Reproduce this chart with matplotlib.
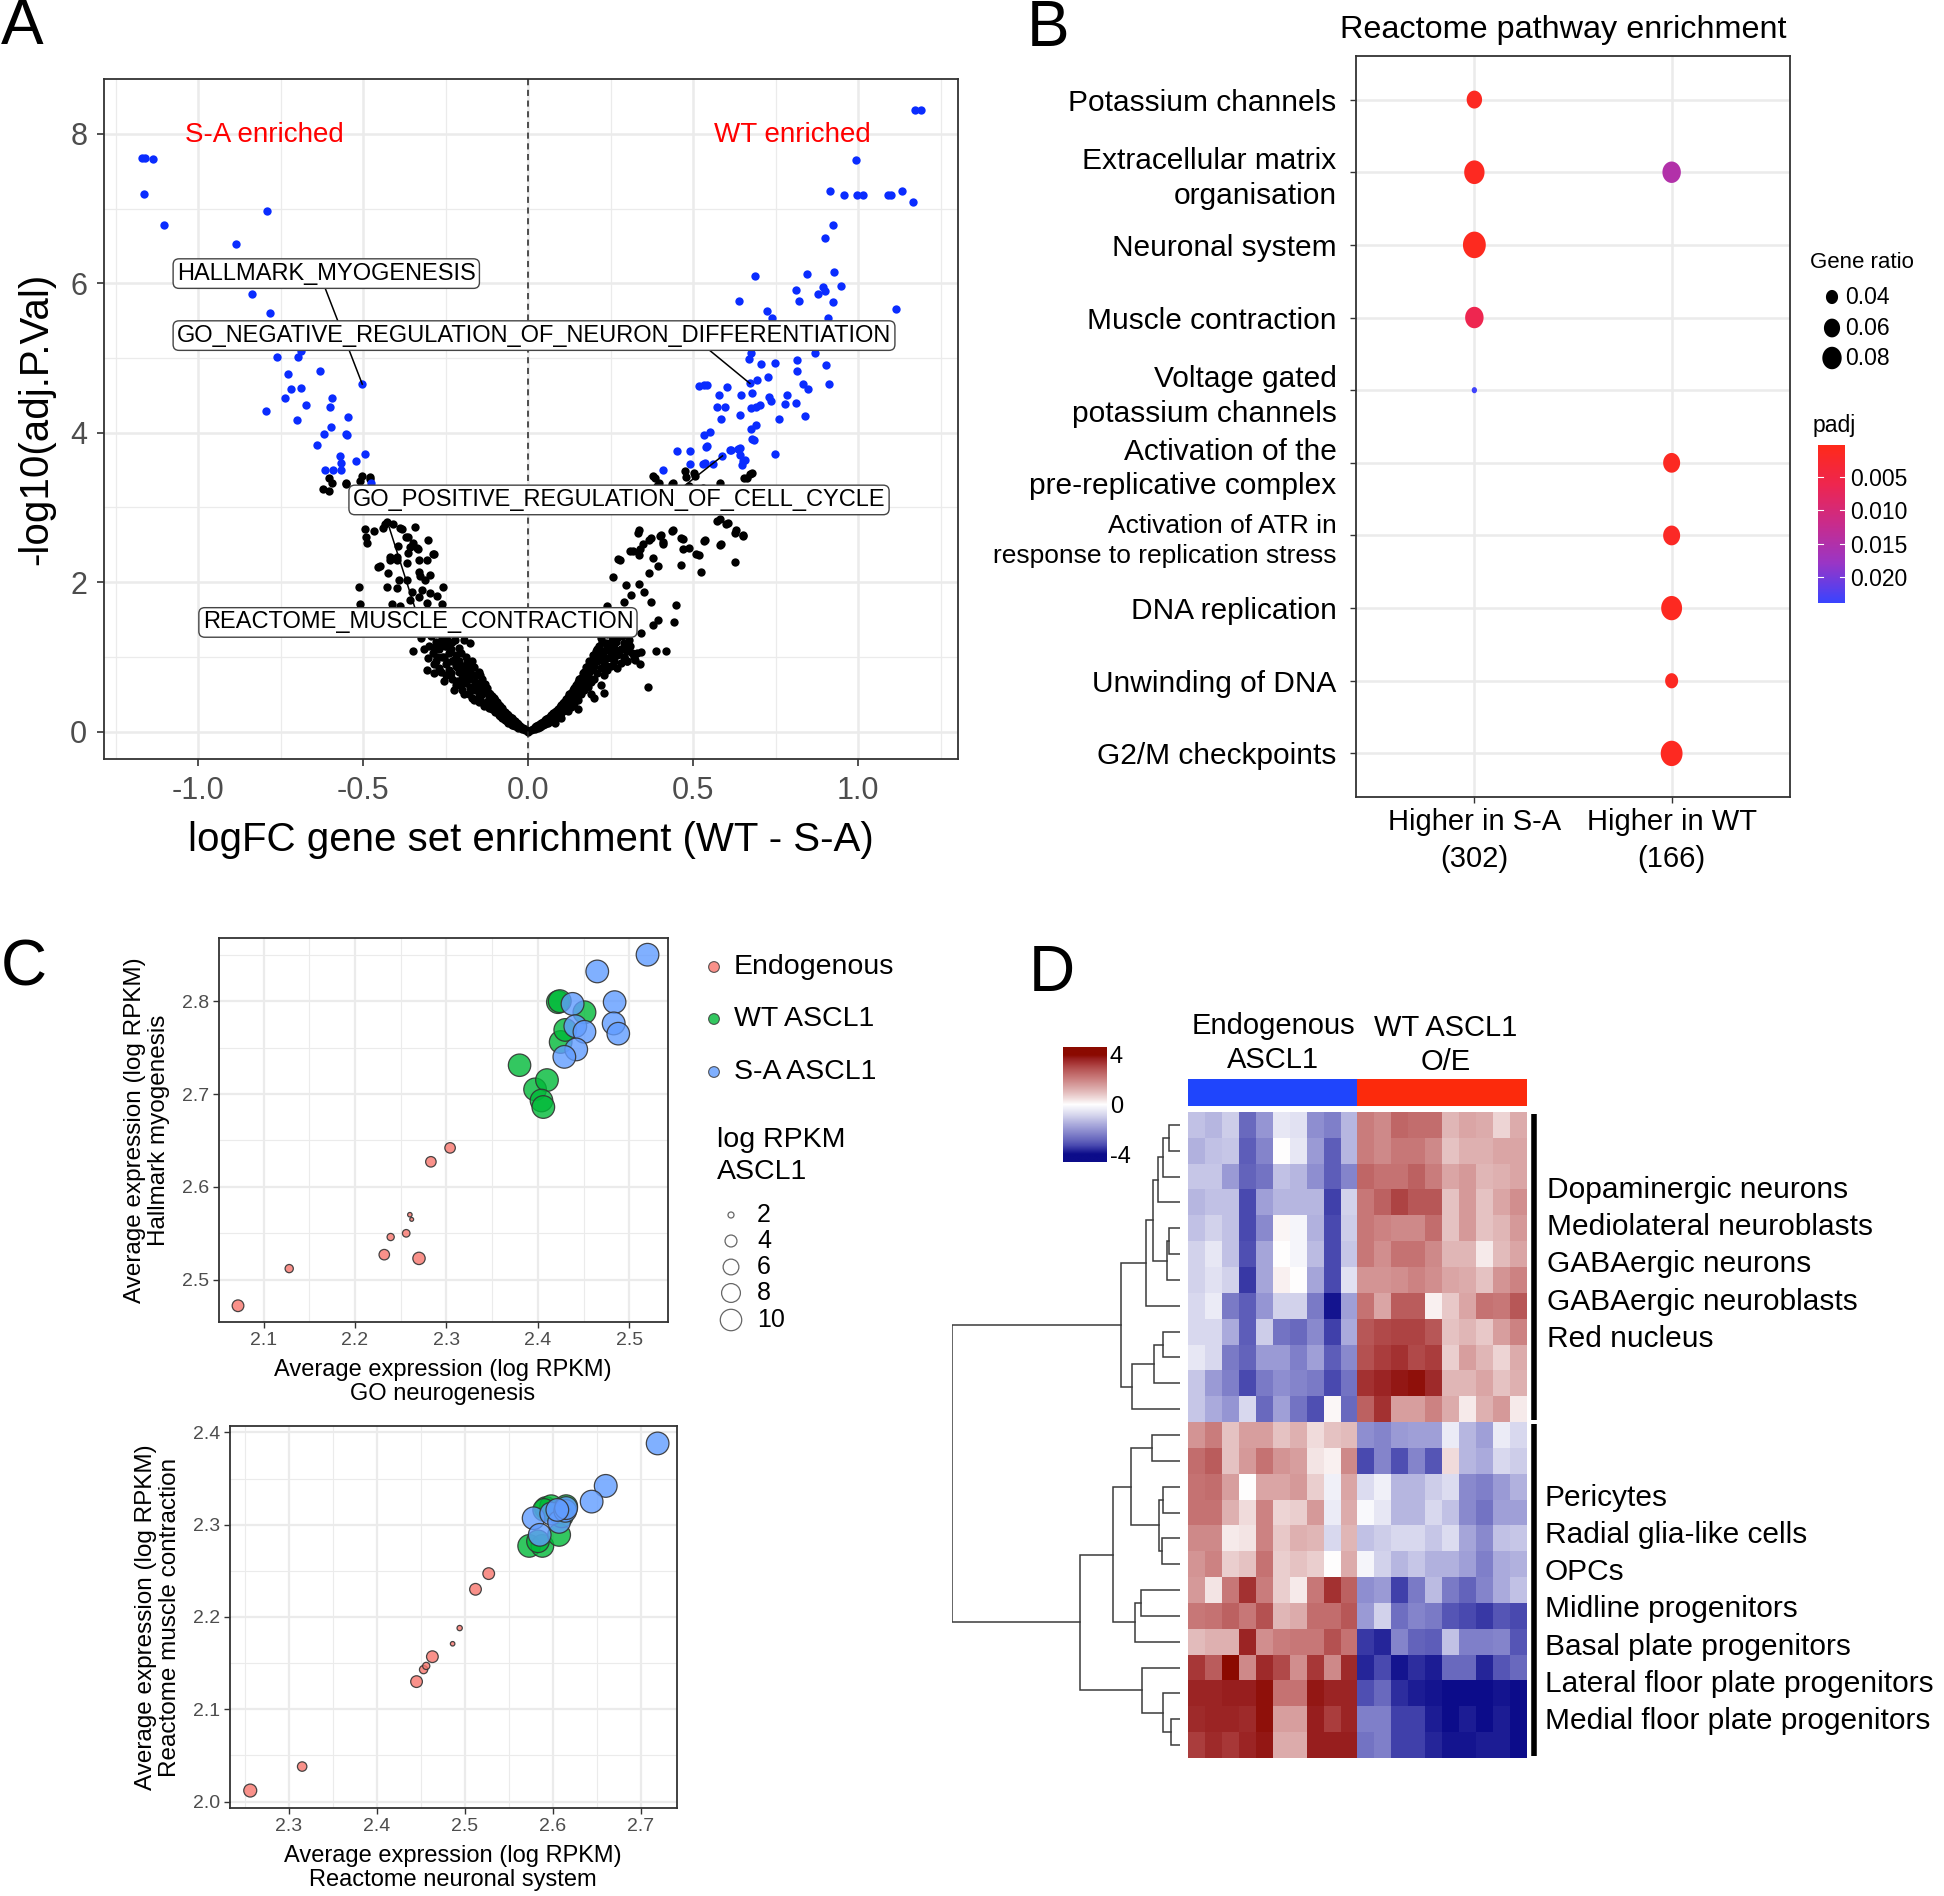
import numpy as np
import matplotlib.pyplot as plt
from matplotlib.colors import LinearSegmentedColormap, ListedColormap, Normalize, to_rgba
from matplotlib.path import Path

plt.rcParams['font.family'] = ['Liberation Sans', 'DejaVu Sans']

W, H = 1944, 1896
DPI = 100

# ---------------- panel A: volcano of gene set enrichment ----------------
blue_left = [(-1.172, 7.68), (-1.162, 7.68), (-1.138, 7.67), (-1.164, 7.20), (-1.103, 6.78),
             (-0.793, 6.97), (-0.886, 6.53), (-0.836, 5.86), (-0.783, 5.60), (-0.761, 5.02),
             (-0.699, 5.02), (-0.689, 5.10), (-0.686, 5.16), (-0.630, 4.83), (-0.727, 4.79),
             (-0.503, 4.65), (-0.720, 4.59), (-0.688, 4.60), (-0.737, 4.46), (-0.673, 4.37),
             (-0.594, 4.47), (-0.601, 4.34), (-0.795, 4.29), (-0.702, 4.17), (-0.545, 4.21),
             (-0.597, 4.08), (-0.620, 3.98), (-0.553, 3.98), (-0.549, 3.97), (-0.640, 3.83),
             (-0.570, 3.69), (-0.495, 3.71), (-0.522, 3.62), (-0.568, 3.59), (-0.616, 3.50),
             (-0.593, 3.50), (-0.568, 3.50), (-0.478, 3.33), (-0.500, 3.25), (-0.470, 3.22)]

blue_right = [(1.172, 8.32), (1.192, 8.32), (0.993, 7.65), (0.915, 7.23), (0.957, 7.18),
              (0.998, 7.18), (1.016, 7.18), (1.091, 7.18), (1.100, 7.18), (1.132, 7.23),
              (1.167, 7.09), (0.923, 6.78), (0.900, 6.61), (0.687, 6.10), (0.844, 6.13),
              (0.927, 6.15), (0.640, 5.76), (0.811, 5.91), (0.822, 5.76), (0.879, 5.86),
              (0.894, 5.95), (0.901, 5.90), (0.948, 5.97), (0.923, 5.75), (1.115, 5.66),
              (0.725, 5.63), (0.738, 5.53), (0.910, 5.54), (0.674, 5.07), (0.670, 4.99),
              (0.706, 4.92), (0.748, 4.93), (0.816, 4.98), (0.869, 5.07), (0.902, 4.90),
              (0.816, 4.82), (0.913, 4.65), (0.519, 4.62), (0.533, 4.64), (0.543, 4.64),
              (0.604, 4.61), (0.672, 4.66), (0.695, 4.70), (0.727, 4.74), (0.579, 4.51),
              (0.645, 4.51), (0.679, 4.53), (0.731, 4.48), (0.735, 4.42), (0.785, 4.51),
              (0.834, 4.65), (0.849, 4.59), (0.571, 4.34), (0.596, 4.34), (0.675, 4.33),
              (0.692, 4.35), (0.703, 4.37), (0.780, 4.39), (0.812, 4.40), (0.642, 4.24),
              (0.584, 4.18), (0.761, 4.18), (0.839, 4.22), (0.674, 4.05), (0.690, 4.10),
              (0.677, 3.91), (0.533, 3.97), (0.551, 4.01), (0.538, 3.81), (0.452, 3.75),
              (0.492, 3.75), (0.612, 3.77), (0.637, 3.78), (0.642, 3.70), (0.650, 3.62),
              (0.648, 3.57), (0.748, 3.72), (0.490, 3.58), (0.531, 3.58), (0.561, 3.58),
              (0.589, 3.69), (0.410, 3.50), (0.543, 3.82), (0.535, 3.59), (0.616, 3.77),
              (0.641, 3.79), (0.656, 3.63), (0.685, 3.90)]

black_left = [(-0.603, 3.40), (-0.596, 3.33), (-0.623, 3.25), (-0.604, 3.22), (-0.553, 3.31),
              (-0.505, 3.42), (-0.510, 3.36), (-0.480, 3.38), (-0.424, 3.24), (-0.389, 3.24),
              (-0.553, 3.33), (-0.480, 3.41), (-0.495, 2.71), (-0.468, 2.68), (-0.492, 2.60),
              (-0.490, 2.53), (-0.434, 2.78), (-0.409, 2.78), (-0.384, 2.71), (-0.343, 2.74),
              (-0.369, 2.60), (-0.349, 2.53), (-0.303, 2.56), (-0.333, 2.44), (-0.288, 2.37),
              (-0.419, 2.33), (-0.399, 2.33), (-0.427, 2.81), (-0.439, 2.72), (-0.388, 2.72),
              (-0.365, 2.61), (-0.358, 2.47), (-0.394, 2.48), (-0.336, 2.46), (-0.286, 2.38),
              (-0.449, 2.22), (-0.455, 2.20), (-0.419, 2.30), (-0.398, 2.30), (-0.363, 2.39),
              (-0.368, 2.25), (-0.331, 2.30), (-0.308, 2.30), (-0.424, 2.12), (-0.332, 2.14),
              (-0.327, 2.08), (-0.297, 2.10), (-0.393, 2.03), (-0.368, 2.03), (-0.314, 2.03),
              (-0.257, 1.93), (-0.512, 1.94), (-0.429, 1.94), (-0.398, 1.92), (-0.353, 1.87),
              (-0.323, 1.89), (-0.297, 1.85), (-0.277, 1.81), (-0.332, 1.80), (-0.358, 1.76),
              (-0.510, 1.71), (-0.414, 1.71), (-0.388, 1.68), (-0.262, 1.71), (-0.307, 1.72),
              (-0.348, 1.08), (-0.307, 0.82), (-0.287, 0.78), (-0.272, 1.18), (-0.252, 1.14),
              (-0.221, 1.22), (-0.196, 1.22), (-0.175, 1.19), (-0.31, 1.35), (-0.27, 1.40),
              (-0.22, 1.32), (-0.24, 1.45)]

black_right = [(0.377, 3.42), (0.385, 3.40), (0.398, 3.33), (0.438, 3.33), (0.474, 3.49),
               (0.479, 3.41), (0.504, 3.46), (0.489, 3.29), (0.530, 3.26), (0.581, 3.33),
               (0.662, 3.40), (0.677, 3.46), (0.389, 3.29), (0.435, 3.32), (0.506, 3.42),
               (0.531, 3.25), (0.654, 3.39), (0.672, 3.45), (0.580, 2.84), (0.605, 2.79),
               (0.631, 2.70), (0.651, 2.63), (0.337, 2.70), (0.372, 2.59), (0.402, 2.63),
               (0.438, 2.70), (0.408, 2.54), (0.463, 2.59), (0.489, 2.45), (0.537, 2.57),
               (0.585, 2.51), (0.347, 2.51), (0.317, 2.42), (0.337, 2.36), (0.377, 2.32),
               (0.279, 2.30), (0.392, 2.22), (0.463, 2.23), (0.519, 2.36), (0.524, 2.14),
               (0.626, 2.27), (0.367, 2.12), (0.337, 1.98), (0.296, 1.96), (0.256, 2.07),
               (0.352, 1.87), (0.311, 1.83), (0.291, 1.74), (0.372, 1.74), (0.448, 1.69),
               (0.240, 1.68), (0.392, 1.49), (0.443, 1.46), (0.377, 1.43), (0.342, 1.32),
               (0.342, 1.07), (0.387, 1.08), (0.418, 1.08), (0.362, 0.59), (0.291, 1.00),
               (0.300, 0.95), (0.230, 0.51), (0.573, 2.82), (0.599, 2.78), (0.626, 2.66),
               (0.650, 2.62), (0.334, 2.66), (0.367, 2.56), (0.400, 2.62), (0.437, 2.68),
               (0.410, 2.51), (0.469, 2.58), (0.532, 2.55), (0.581, 2.50), (0.309, 2.41),
               (0.340, 2.44), (0.470, 2.44), (0.510, 2.37), (0.273, 2.31)]

# dense centre of the volcano
black_centre = [(-0.30, 1.15), (-0.29, 1.05), (-0.28, 1.20), (-0.28, 0.95), (-0.27, 1.10),
                (-0.27, 0.85), (-0.26, 1.25), (-0.26, 1.00), (-0.25, 0.90), (-0.25, 1.15),
                (-0.25, 0.75), (-0.24, 1.05), (-0.24, 0.82), (-0.23, 0.95), (-0.23, 1.20),
                (-0.23, 0.70), (-0.22, 0.88), (-0.22, 1.02), (-0.22, 0.62), (-0.21, 0.80),
                (-0.21, 0.95), (-0.21, 1.12), (-0.20, 0.72), (-0.20, 0.55), (-0.20, 0.88),
                (-0.19, 1.00), (-0.19, 0.65), (-0.19, 0.78), (-0.18, 0.50), (-0.18, 0.85),
                (-0.18, 0.70), (-0.17, 0.60), (-0.17, 0.95), (-0.17, 0.45), (-0.16, 0.75),
                (-0.16, 0.55), (-0.16, 0.66), (-0.15, 0.48), (-0.15, 0.80), (-0.15, 0.40),
                (-0.14, 0.60), (-0.14, 0.70), (-0.14, 0.50), (-0.13, 0.38), (-0.13, 0.55),
                (-0.13, 0.64), (-0.12, 0.45), (-0.12, 0.32), (-0.12, 0.52), (-0.11, 0.40),
                (-0.11, 0.30), (-0.11, 0.48), (-0.10, 0.35), (-0.10, 0.26), (-0.10, 0.42),
                (-0.09, 0.30), (-0.09, 0.22), (-0.09, 0.36), (-0.08, 0.25), (-0.08, 0.18),
                (-0.08, 0.31), (-0.07, 0.21), (-0.07, 0.15), (-0.07, 0.26), (-0.06, 0.17),
                (-0.06, 0.12), (-0.06, 0.22), (-0.05, 0.14), (-0.05, 0.09), (-0.05, 0.18),
                (-0.04, 0.11), (-0.04, 0.07), (-0.04, 0.14), (-0.03, 0.08), (-0.03, 0.05),
                (-0.03, 0.10), (-0.02, 0.05), (-0.02, 0.03), (-0.01, 0.03), (-0.01, 0.02),
                (0.00, 0.00), (0.01, 0.02), (0.02, 0.04), (0.02, 0.06), (0.03, 0.05),
                (0.03, 0.09), (0.04, 0.08), (0.04, 0.12), (0.05, 0.10), (0.05, 0.15),
                (0.06, 0.12), (0.06, 0.18), (0.07, 0.15), (0.07, 0.22), (0.08, 0.18),
                (0.08, 0.26), (0.08, 0.12), (0.09, 0.22), (0.09, 0.30), (0.10, 0.25),
                (0.10, 0.35), (0.10, 0.18), (0.11, 0.30), (0.11, 0.40), (0.12, 0.28),
                (0.12, 0.36), (0.12, 0.46), (0.13, 0.33), (0.13, 0.42), (0.13, 0.52),
                (0.14, 0.38), (0.14, 0.48), (0.14, 0.58), (0.15, 0.42), (0.15, 0.55),
                (0.15, 0.66), (0.16, 0.50), (0.16, 0.62), (0.16, 0.72), (0.17, 0.55),
                (0.17, 0.68), (0.17, 0.80), (0.18, 0.60), (0.18, 0.75), (0.18, 0.88),
                (0.19, 0.66), (0.19, 0.82), (0.19, 0.95), (0.20, 0.70), (0.20, 0.88),
                (0.20, 1.02), (0.21, 0.78), (0.21, 0.95), (0.21, 1.10), (0.22, 0.85),
                (0.22, 1.00), (0.22, 0.62), (0.23, 0.92), (0.23, 1.08), (0.23, 0.75),
                (0.24, 0.98), (0.24, 1.15), (0.24, 0.82), (0.25, 1.05), (0.25, 0.88),
                (0.25, 1.20), (0.26, 0.95), (0.26, 1.12), (0.27, 1.02), (0.27, 1.25),
                (0.27, 0.85), (0.28, 1.10), (0.28, 0.92), (0.29, 1.18), (0.29, 1.00),
                (0.30, 1.08), (0.30, 0.95), (0.31, 1.15), (0.32, 1.00), (0.33, 1.05),
                (0.34, 0.90), (0.24, 1.30), (0.26, 1.40), (0.28, 1.35), (0.30, 1.45),
                (0.22, 1.25), (0.19, 0.50), (0.20, 0.45), (0.15, 0.30),
                (-0.325, 1.25), (-0.315, 1.10), (-0.305, 0.98), (-0.295, 1.28), (-0.285, 0.90),
                (-0.285, 1.12), (-0.275, 1.00), (-0.265, 0.80), (-0.265, 1.17), (-0.255, 0.68),
                (-0.255, 1.00), (-0.245, 0.93), (-0.245, 1.22), (-0.235, 0.78), (-0.235, 1.10),
                (-0.225, 0.55), (-0.225, 0.96), (-0.215, 0.68), (-0.215, 0.86), (-0.205, 1.05),
                (-0.205, 0.62), (-0.195, 0.85), (-0.195, 0.50), (-0.185, 0.72), (-0.185, 0.92),
                (-0.175, 0.58), (-0.175, 0.80), (-0.165, 0.42), (-0.165, 0.86), (-0.155, 0.65),
                (-0.155, 0.55), (-0.145, 0.44), (-0.145, 0.75), (-0.135, 0.62), (-0.135, 0.34),
                (-0.125, 0.58), (-0.125, 0.40), (-0.115, 0.50), (-0.115, 0.35), (-0.105, 0.45),
                (-0.105, 0.30), (-0.095, 0.40), (-0.095, 0.26), (-0.085, 0.34), (-0.085, 0.21),
                (-0.075, 0.28), (-0.075, 0.18), (-0.065, 0.24), (-0.065, 0.14), (-0.055, 0.20),
                (-0.055, 0.11), (-0.045, 0.16), (-0.045, 0.09), (-0.035, 0.12), (-0.025, 0.08),
                (-0.015, 0.05), (0.015, 0.04), (0.025, 0.07), (0.035, 0.10), (0.035, 0.06),
                (0.045, 0.13), (0.045, 0.09), (0.055, 0.17), (0.055, 0.11), (0.065, 0.20),
                (0.065, 0.14), (0.075, 0.25), (0.075, 0.16), (0.085, 0.28), (0.085, 0.20),
                (0.095, 0.33), (0.095, 0.24), (0.105, 0.38), (0.105, 0.28), (0.115, 0.44),
                (0.115, 0.33), (0.125, 0.50), (0.125, 0.38), (0.135, 0.56), (0.135, 0.45),
                (0.145, 0.62), (0.145, 0.52), (0.155, 0.70), (0.155, 0.60), (0.165, 0.78),
                (0.165, 0.66), (0.175, 0.86), (0.175, 0.72), (0.185, 0.94), (0.185, 0.80),
                (0.195, 1.02), (0.195, 0.86), (0.205, 1.08), (0.205, 0.94), (0.215, 1.15),
                (0.215, 0.98), (0.225, 1.20), (0.225, 1.04), (0.235, 0.88), (0.235, 1.18),
                (0.245, 1.10), (0.255, 0.98), (0.255, 1.28), (0.265, 1.20), (0.275, 1.08),
                (0.285, 1.28), (0.295, 1.12), (0.305, 1.22), (0.315, 1.05), (0.325, 0.96),
                (0.31, 1.32), (0.27, 1.48), (0.25, 1.38)]

geneset_labels = ["HALLMARK_MYOGENESIS",
                  "GO_NEGATIVE_REGULATION_OF_NEURON_DIFFERENTIATION",
                  "GO_POSITIVE_REGULATION_OF_CELL_CYCLE",
                  "REACTOME_MUSCLE_CONTRACTION"]
geneset_label_xy = [(-1.065, 6.13), (-1.065, 5.30), (-0.532, 3.10), (-0.987, 1.46)]
geneset_point_xy = [(-0.503, 4.65), (0.672, 4.66), (0.589, 3.69), (-0.427, 2.81)]
geneset_seg_from = [(-0.616, 5.94), (0.548, 5.11), (0.474, 3.29), (-0.343, 1.65)]

# ---------------- panel B: reactome dot plot ----------------
pathways = ["Potassium channels", "Extracellular matrix\norganisation", "Neuronal system",
            "Muscle contraction", "Voltage gated\npotassium channels",
            "Activation of the\npre-replicative complex",
            "Activation of ATR in\nresponse to replication stress",
            "DNA replication", "Unwinding of DNA", "G2/M checkpoints"]
comparisons = ["Higher in S-A\n(302)", "Higher in WT\n(166)"]
b_path = [0, 1, 1, 2, 3, 4, 5, 6, 7, 8, 9]
b_comp = [0, 0, 1, 0, 0, 0, 1, 1, 1, 1, 1]
b_ratio = [0.056, 0.087, 0.074, 0.106, 0.074, 0.019, 0.065, 0.065, 0.091, 0.044, 0.098]
b_padj = [0.0012, 0.0010, 0.0150, 0.0008, 0.0062, 0.0236, 0.0012, 0.0015, 0.0010, 0.0012, 0.0010]
ratio_breaks = [0.04, 0.06, 0.08]
padj_breaks = [0.005, 0.010, 0.015, 0.020]

# ---------------- panel C: average expression scatter ----------------
c_groups = ["Endogenous", "WT ASCL1", "S-A ASCL1"]
c_colors = ["#F8766D", "#00BA38", "#619CFF"]
# top: GO neurogenesis vs Hallmark myogenesis
c1_x = [[2.072, 2.128, 2.232, 2.270, 2.256, 2.239, 2.260, 2.262, 2.283, 2.304],
        [2.380, 2.397, 2.410, 2.404, 2.406, 2.422, 2.424, 2.425, 2.430, 2.451],
        [2.520, 2.465, 2.438, 2.484, 2.441, 2.451, 2.483, 2.488, 2.442, 2.429]]
c1_y = [[2.472, 2.512, 2.527, 2.523, 2.550, 2.546, 2.570, 2.565, 2.627, 2.642],
        [2.731, 2.705, 2.715, 2.693, 2.686, 2.799, 2.800, 2.756, 2.769, 2.788],
        [2.850, 2.832, 2.797, 2.799, 2.773, 2.767, 2.776, 2.765, 2.748, 2.740]]
# bottom: Reactome neuronal system vs Reactome muscle contraction
c2_x = [[2.256, 2.315, 2.445, 2.453, 2.456, 2.463, 2.486, 2.494, 2.512, 2.527],
        [2.573, 2.588, 2.583, 2.607, 2.592, 2.598, 2.615, 2.610, 2.590],
        [2.719, 2.660, 2.644, 2.578, 2.585, 2.598, 2.607, 2.614, 2.615, 2.605]]
c2_y = [[2.012, 2.038, 2.130, 2.143, 2.147, 2.157, 2.171, 2.188, 2.230, 2.247],
        [2.277, 2.277, 2.282, 2.289, 2.318, 2.320, 2.320, 2.309, 2.316],
        [2.388, 2.342, 2.325, 2.307, 2.289, 2.312, 2.303, 2.315, 2.318, 2.316]]
c1_ascl1 = [[3.9, 2.6, 3.4, 4.2, 2.4, 2.3, 1.7, 1.6, 3.4, 3.4],
            [10.8, 11.0, 11.0, 10.9, 11.0, 11.1, 11.1, 11.0, 11.0, 11.1],
            [11.0, 11.0, 11.1, 10.9, 11.0, 11.0, 11.1, 10.9, 11.0, 11.0]]
c2_ascl1 = [[4.5, 3.0, 3.9, 2.6, 2.3, 3.9, 1.7, 1.85, 3.9, 3.9],
            [11.0, 11.0, 10.9, 11.1, 11.0, 11.0, 11.1, 11.0, 10.9],
            [11.0, 11.1, 11.0, 10.9, 11.0, 11.0, 11.0, 11.0, 11.1, 11.0]]
ascl1_breaks = [2, 4, 6, 8, 10]

# ---------------- panel D: clustered heatmap ----------------
hm_values = [
    [-1.2, -1.4, -1.0, -2.8, -2.0, -0.5, -0.6, -2.1, -2.4, -1.4, 2.1, 1.9, 2.5, 2.4, 2.4, 1.1, 1.4, 1.3, 0.6, 1.3],
    [-1.5, -1.2, -1.1, -3.0, -2.3, 0.0, -0.5, -1.9, -3.0, -1.4, 2.1, 1.9, 2.2, 2.2, 1.9, 0.9, 1.2, 1.2, 1.4, 1.4],
    [-1.1, -1.1, -1.9, -2.9, -2.6, -1.2, -1.4, -2.1, -3.0, -2.3, 2.5, 2.3, 2.3, 2.6, 2.1, 1.4, 1.6, 1.1, 1.2, 1.4],
    [-1.4, -1.2, -1.2, -3.3, -1.8, -1.4, -1.4, -1.4, -3.4, -0.9, 2.2, 2.6, 3.1, 2.8, 2.8, 0.9, 1.6, 0.9, 1.4, 1.8],
    [-1.2, -0.9, -1.2, -3.3, -2.2, 0.15, -0.2, -1.5, -3.3, -1.0, 2.2, 2.0, 1.9, 1.9, 2.4, 0.9, 1.6, 0.9, 1.1, 1.6],
    [-0.9, -0.5, -1.2, -3.2, -1.7, 0.0, -0.2, -1.3, -3.3, -1.1, 2.2, 1.8, 2.3, 2.3, 1.9, 1.1, 1.1, 0.3, 1.0, 1.4],
    [-0.9, -0.6, -0.9, -3.5, -1.7, 0.2, 0.0, -1.7, -3.3, -0.6, 1.7, 1.7, 1.8, 2.0, 1.8, 1.4, 1.3, 0.9, 1.7, 2.0],
    [-0.8, -0.4, -2.5, -3.0, -2.0, -0.9, -0.9, -2.5, -3.9, -1.8, 2.3, 1.4, 2.7, 2.7, 0.2, 0.8, 1.4, 2.3, 2.2, 2.8],
    [-0.8, -0.8, -1.6, -3.0, -1.0, -2.6, -2.8, -2.2, -3.4, -1.6, 2.8, 3.0, 3.1, 3.1, 2.8, 0.9, 1.1, 0.8, 1.5, 2.0],
    [-0.5, -0.8, -2.5, -2.9, -1.9, -1.9, -2.4, -1.8, -3.0, -2.2, 2.9, 3.2, 3.4, 3.0, 3.2, 0.7, 1.5, 1.1, 0.6, 1.3],
    [-1.1, -1.9, -2.4, -3.3, -2.5, -2.1, -2.3, -2.5, -3.3, -2.6, 3.4, 3.6, 3.8, 3.9, 3.5, 1.1, 1.1, 1.4, 0.9, 1.2],
    [-1.1, -1.6, -2.0, -0.8, -2.8, -1.8, -2.6, -3.2, 0.1, -2.8, 2.6, 3.4, 1.5, 1.5, 2.0, 1.3, 0.3, 1.2, 1.6, 0.3],
    [1.7, 2.1, 0.9, 1.5, 1.5, 0.9, 1.2, 0.5, 0.9, 1.0, -2.1, -2.3, -1.9, -1.8, -1.8, -0.4, -1.4, -1.8, -0.4, -0.8],
    [2.4, 2.7, 0.9, 1.6, 2.3, 1.7, 1.5, 0.4, 0.2, 1.9, -3.3, -2.3, -3.2, -2.3, -3.1, 0.5, -1.4, -1.6, -0.8, -1.0],
    [2.3, 2.4, 1.5, 0.0, 1.4, 1.4, 1.6, 0.7, -0.3, 1.4, -0.7, -0.3, -1.4, -1.4, -1.0, -0.7, -2.2, -2.4, -1.9, -1.5],
    [2.3, 2.3, 1.2, 0.5, 2.0, 0.6, 0.7, 1.6, -0.4, 1.3, -0.1, -0.5, -1.4, -1.4, -0.8, -1.2, -2.2, -2.6, -1.8, -1.8],
    [1.9, 1.9, 0.3, 0.4, 2.0, 0.8, 1.2, 1.1, -0.8, 1.1, -1.2, -1.0, -0.8, -0.8, -1.1, -0.7, -1.7, -2.2, -1.2, -1.1],
    [1.7, 2.0, 0.7, 0.9, 2.3, 0.7, 0.9, 0.7, 0.0, 1.3, -0.2, -0.9, -1.4, -1.1, -1.5, -1.5, -1.8, -2.4, -1.6, -1.5],
    [1.6, 0.4, 2.2, 3.4, 2.1, 0.7, 0.3, 2.2, 3.4, 2.6, -2.1, -1.9, -3.4, -2.5, -1.3, -2.5, -2.9, -2.3, -1.6, -1.2],
    [2.2, 2.3, 2.6, 2.2, 2.9, 1.1, 1.3, 2.4, 2.4, 2.8, -1.9, -0.9, -2.7, -2.3, -2.5, -3.1, -3.3, -3.5, -3.1, -3.3],
    [1.0, 1.2, 1.2, 3.6, 1.8, 2.1, 2.2, 2.2, 2.9, 2.3, -3.5, -3.7, -2.3, -2.9, -3.0, -1.2, -2.4, -2.4, -2.3, -3.1],
    [3.3, 2.7, 4.0, 1.9, 3.5, 3.0, 1.8, 3.3, 1.9, 3.5, -3.7, -3.3, -3.9, -3.6, -3.8, -2.8, -2.8, -3.7, -3.1, -2.8],
    [3.6, 3.6, 3.7, 3.7, 3.9, 2.3, 2.3, 3.8, 3.6, 3.6, -3.2, -2.8, -3.6, -3.8, -3.9, -4.0, -4.0, -4.0, -3.9, -4.0],
    [3.5, 3.6, 3.6, 3.5, 3.9, 1.5, 1.5, 3.7, 3.2, 3.6, -2.4, -2.4, -3.4, -3.4, -3.8, -4.0, -3.8, -4.0, -3.8, -4.0],
    [3.2, 3.5, 3.3, 3.6, 3.8, 1.3, 1.3, 3.7, 3.7, 3.7, -2.6, -2.4, -3.4, -3.4, -3.7, -3.9, -3.9, -3.8, -3.8, -4.0],
]
sample_group = [0] * 10 + [1] * 10
# row dendrogram merges: (child a, child b, height); new nodes numbered from 25
row_linkage = [(0, 1, 0.048), (25, 2, 0.073), (26, 3, 0.097), (4, 5, 0.050), (28, 6, 0.059),
               (27, 29, 0.119), (30, 7, 0.149), (8, 9, 0.075), (32, 10, 0.113), (33, 11, 0.211),
               (31, 34, 0.259), (12, 13, 0.123), (14, 15, 0.073), (16, 17, 0.081), (37, 38, 0.091),
               (36, 39, 0.215), (18, 19, 0.173), (41, 20, 0.196), (40, 42, 0.294), (23, 24, 0.038),
               (44, 22, 0.073), (21, 45, 0.167), (43, 46, 0.439), (35, 47, 1.0)]
row_groups = [(0, 12), (12, 25)]
cell_types_top = ["Dopaminergic neurons", "Mediolateral neuroblasts", "GABAergic neurons",
                  "GABAergic neuroblasts", "Red nucleus"]
cell_types_bottom = ["Pericytes", "Radial glia-like cells", "OPCs", "Midline progenitors",
                     "Basal plate progenitors", "Lateral floor plate progenitors",
                     "Medial floor plate progenitors"]


def box(x0, y0, x1, y1):
    return [x0 / W, 1 - y1 / H, (x1 - x0) / W, (y1 - y0) / H]


def bw_style(ax, major_x, major_y, minor_x, minor_y, lw_major=1.8, lw_minor=0.9):
    for v in minor_x:
        ax.axvline(v, color='#EBEBEB', lw=lw_minor, zorder=0)
    for v in minor_y:
        ax.axhline(v, color='#EBEBEB', lw=lw_minor, zorder=0)
    for v in major_x:
        ax.axvline(v, color='#EBEBEB', lw=lw_major, zorder=0)
    for v in major_y:
        ax.axhline(v, color='#EBEBEB', lw=lw_major, zorder=0)
    for s in ax.spines.values():
        s.set_color('#333333')
        s.set_linewidth(1.3)
    ax.set_xticks(major_x)
    ax.set_yticks(major_y)


fig = plt.figure(figsize=(W / DPI, H / DPI), dpi=DPI)

# ======== A ========
axA = fig.add_axes(box(104, 79, 958, 759))
axA.set_xlim(-1.286, 1.303)
axA.set_ylim(-0.368, 8.735)
bw_style(axA, [-1.0, -0.5, 0.0, 0.5, 1.0], [0, 2, 4, 6, 8],
         [-1.25, -0.75, -0.25, 0.25, 0.75, 1.25], [1, 3, 5, 7])
axA.set_xticklabels(["-1.0", "-0.5", "0.0", "0.5", "1.0"])
axA.tick_params(labelsize=22, labelcolor='#4D4D4D', color='#333333', length=5, width=1.2, pad=7)
for pts, col in [(black_left, 'black'), (black_right, 'black'), (black_centre, 'black'),
                 (blue_left, '#0a2cff'), (blue_right, '#0a2cff')]:
    arr = np.array(pts)
    axA.scatter(arr[:, 0], arr[:, 1], s=36, color=col, linewidths=0, zorder=3)
axA.axvline(0, color='#222222', lw=1.1, ls=(0, (4, 3)), zorder=4)
for (x0, y0), (x1, y1) in zip(geneset_seg_from, geneset_point_xy):
    axA.plot([x0, x1], [y0, y1], color='black', lw=1.1, zorder=5)
for lab, (lx, ly) in zip(geneset_labels, geneset_label_xy):
    axA.text(lx, ly, lab, fontsize=17, ha='left', va='center', zorder=6,
             bbox=dict(boxstyle='round,pad=0.16,rounding_size=0.25', fc='white', ec='#444444', lw=1))
axA.text(-0.80, 7.98, "S-A enriched", color='#FF0000', fontsize=20, ha='center', va='center')
axA.text(0.80, 7.98, "WT enriched", color='#FF0000', fontsize=20, ha='center', va='center')

# ======== B ========
cmapB = LinearSegmentedColormap.from_list('padj', ['#ff2a1a', '#ee2650', '#c92c8c', '#9a36c6', '#3a44ff'])
normB = Normalize(0.0002, 0.0239)
t = np.linspace(0, 2 * np.pi, 64)
ell_verts = np.column_stack([0.86 * np.cos(t), np.sin(t)])
ellipse = Path(np.vstack([ell_verts, ell_verts[:1]]), closed=True)


def ratio_to_s(r):
    d = np.sqrt(np.maximum(7675 * (np.asarray(r) - 0.0141), 4))
    return (d * 0.72) ** 2


axB = fig.add_axes(box(1356, 56, 1790, 797))
axB.set_xlim(0.4, 2.6)
axB.set_ylim(10.6, 0.4)
bw_style(axB, [1, 2], list(range(1, 11)), [], [])
axB.scatter(np.array(b_comp) + 1, np.array(b_path) + 1, s=ratio_to_s(b_ratio), c=b_padj,
            cmap=cmapB, norm=normB, marker=ellipse, linewidths=0, zorder=3)
axB.set_yticklabels(pathways, fontsize=21.5, linespacing=1.3)
axB.set_xticklabels(comparisons, fontsize=21, linespacing=1.42)
axB.get_yticklabels()[6].set_fontsize(19)
axB.tick_params(axis='y', color='#333333', length=4, width=1.0, pad=10)
axB.tick_params(axis='x', color='#333333', length=4, width=1.0, pad=4)

# B colourbar
axBc = fig.add_axes(box(1818, 445, 1845, 603))
grad = np.linspace(0.0002, 0.0239, 200)[:, None]
axBc.imshow(grad, aspect='auto', cmap=cmapB, norm=normB, extent=[0, 1, 0.0239, 0.0002], origin='upper')
axBc.set_xlim(0, 1)
axBc.set_ylim(0.0239, 0.0002)
axBc.set_xticks([])
axBc.yaxis.tick_right()
axBc.set_yticks(padj_breaks)
axBc.set_yticklabels(["0.005", "0.010", "0.015", "0.020"], fontsize=16.5)
axBc.tick_params(axis='y', length=0, pad=4)
for v in padj_breaks:
    axBc.plot([0, 0.18], [v, v], color='white', lw=0.8)
    axBc.plot([0.82, 1], [v, v], color='white', lw=0.8)
for s in axBc.spines.values():
    s.set_visible(False)


# ======== C ========
def asc_to_s(v):
    d = np.sqrt(np.maximum(53 * np.asarray(v) - 70, 9))
    return (d * 0.72) ** 2


def draw_c(rect, xs, ys, sizes, xlim, ylim, xt, yt, xminor, yminor):
    ax = fig.add_axes(rect)
    ax.set_xlim(*xlim)
    ax.set_ylim(*ylim)
    bw_style(ax, xt, yt, xminor, yminor, lw_major=1.6, lw_minor=0.8)
    ax.tick_params(labelsize=14, labelcolor='#4D4D4D', color='#333333', length=4, width=1.0, pad=3)
    for gx, gy, gs, col in zip(xs, ys, sizes, c_colors):
        ax.scatter(gx, gy, s=asc_to_s(gs), facecolor=to_rgba(col, 0.8),
                   edgecolor=to_rgba('#333333', 0.9), linewidths=0.9, zorder=3)
    return ax


axC1 = draw_c(box(219, 938, 668, 1322), c1_x, c1_y, c1_ascl1, (2.0512, 2.5424), (2.4545, 2.868),
              [2.1, 2.2, 2.3, 2.4, 2.5], [2.5, 2.6, 2.7, 2.8],
              [2.15, 2.25, 2.35, 2.45], [2.55, 2.65, 2.75, 2.85])
axC2 = draw_c(box(230, 1426, 677, 1808), c2_x, c2_y, c2_ascl1, (2.233, 2.741), (1.9931, 2.4069),
              [2.3, 2.4, 2.5, 2.6, 2.7], [2.0, 2.1, 2.2, 2.3, 2.4],
              [2.25, 2.35, 2.45, 2.55, 2.65], [2.05, 2.15, 2.25, 2.35])

# ======== D ========
hm = np.array(hm_values)
d_nodes = [(-4.0, '#0c0c8a'), (-3.3, '#4a4ab0'), (-2.8, '#6a6abf'), (-1.8, '#a0a0d8'),
           (-0.8, '#d8d8ee'), (0.0, '#ffffff'), (0.8, '#e8c8c8'), (1.5, '#d8a0a0'),
           (2.2, '#c87878'), (2.8, '#b85858'), (3.3, '#a83838'), (3.7, '#982020'), (4.0, '#8b0a00')]
cmapD = LinearSegmentedColormap.from_list('hm', [((v + 4) / 8, c) for v, c in d_nodes])

axH = fig.add_axes(box(1188, 1112, 1527, 1758))
axH.imshow(hm, cmap=cmapD, vmin=-4, vmax=4, aspect='auto', interpolation='nearest',
           extent=[0, 20, 25, 0])
axH.set_xlim(0, 20)
axH.set_ylim(25, 0)
axH.axis('off')
for (r0, r1) in row_groups:
    axH.plot([20.42, 20.42], [r0 + 0.08, r1 - 0.08], color='black', lw=4, clip_on=False,
             solid_capstyle='butt')
axH.text(21.2, 5.90, "\n".join(cell_types_top), fontsize=21.5, ha='left', va='center',
         linespacing=1.42, clip_on=False)
axH.text(21.05, 19.25, "\n".join(cell_types_bottom), fontsize=21.5, ha='left', va='center',
         linespacing=1.42, clip_on=False)

axAnn = fig.add_axes(box(1188, 1079, 1527, 1106))
axAnn.imshow(np.array([sample_group]), cmap=ListedColormap(['#1f45fc', '#fc2a0c']),
             aspect='auto', interpolation='nearest', extent=[0, 20, 1, 0])
axAnn.axis('off')

# dendrogram
axDen = fig.add_axes(box(952, 1112, 1180, 1758))
pos = {i: i + 0.5 for i in range(25)}
height = {i: 0.0 for i in range(25)}
for k, (a, b, h) in enumerate(row_linkage):
    node = 25 + k
    axDen.plot([height[a], h, h, height[b]], [pos[a], pos[a], pos[b], pos[b]],
               color='#3a3a3a', lw=1.1, solid_joinstyle='miter')
    pos[node] = (pos[a] + pos[b]) / 2
    height[node] = h
axDen.set_xlim(1.0, 0.0)
axDen.set_ylim(25, 0)
axDen.axis('off')

# heatmap colourbar
axDc = fig.add_axes(box(1063, 1047, 1107, 1162))
axDc.imshow(np.linspace(4.6, -4.6, 200)[:, None], cmap=cmapD, vmin=-4, vmax=4, aspect='auto',
            extent=[0, 1, -4.6, 4.6])
axDc.set_xticks([])
axDc.yaxis.tick_right()
axDc.set_yticks([4, 0, -4])
axDc.set_yticklabels(["4", "0", "-4"], fontsize=17)
axDc.tick_params(axis='y', length=0, pad=2)
for s in axDc.spines.values():
    s.set_visible(False)

# ======== free text and legends (pixel overlay) ========
ov = fig.add_axes([0, 0, 1, 1])
ov.set_xlim(0, W)
ov.set_ylim(H, 0)
ov.axis('off')

for letter, (x, y) in zip("ABCD", [(22, 27), (1048, 29), (24, 968), (1052, 974)]):
    ov.text(x, y, letter, fontsize=46, ha='center', va='center')

ov.text(531, 840, "logFC gene set enrichment (WT - S-A)", fontsize=29, ha='center', va='center')
ov.text(36, 419, "-log10(adj.P.Val)", fontsize=29, ha='center', va='center', rotation=90)

ov.text(1563, 30, "Reactome pathway enrichment", fontsize=23.3, ha='center', va='center')
ov.text(1810, 262, "Gene ratio", fontsize=16, ha='left', va='center')
ov.scatter([1832] * 3, [297, 328, 358], s=ratio_to_s(ratio_breaks), color='black',
           marker=ellipse, linewidths=0)
for yy, rb in zip([297, 328, 358], ratio_breaks):
    ov.text(1845, yy, f"{rb:.2f}", fontsize=16.5, ha='left', va='center')
ov.text(1813, 425, "padj", fontsize=16.5, ha='left', va='center')

# C axis titles
ov.text(443, 1382, "Average expression (log RPKM)\nGO neurogenesis", fontsize=17,
        ha='center', va='center', linespacing=1.12)
ov.text(147, 1130, "Average expression (log RPKM)\nHallmark myogenesis", fontsize=17.5,
        ha='center', va='center', rotation=90, linespacing=1.1)
ov.text(453, 1868, "Average expression (log RPKM)\nReactome neuronal system", fontsize=17,
        ha='center', va='center', linespacing=1.12)
ov.text(158, 1617, "Average expression (log RPKM)\nReactome muscle contraction", fontsize=17.5,
        ha='center', va='center', rotation=90, linespacing=1.1)

# C legends
leg_y = [967, 1019, 1072]
ov.scatter([714] * 3, leg_y, s=60, facecolor=[to_rgba(c, 0.8) for c in c_colors],
           edgecolor=to_rgba('#333333', 0.8), linewidths=0.8)
for yy, g in zip(leg_y, c_groups):
    ov.text(734, yy, g, fontsize=20.5, ha='left', va='center')
ov.text(717, 1156, "log RPKM\nASCL1", fontsize=20.5, ha='left', va='center', linespacing=1.3)
size_y = [1215, 1241, 1267, 1293, 1320]
ov.scatter([731] * 5, size_y, s=asc_to_s(ascl1_breaks), facecolor='none',
           edgecolor='#666666', linewidths=0.9)
for yy, v in zip(size_y, ascl1_breaks):
    ov.text(757, yy, str(v), fontsize=18, ha='left', va='center')

# D column headers
ov.text(1273, 1043, "Endogenous\nASCL1", fontsize=21, ha='center', va='center', linespacing=1.3)
ov.text(1446, 1045, "WT ASCL1\nO/E", fontsize=21, ha='center', va='center', linespacing=1.3)

fig.savefig("out.png", dpi=DPI)
